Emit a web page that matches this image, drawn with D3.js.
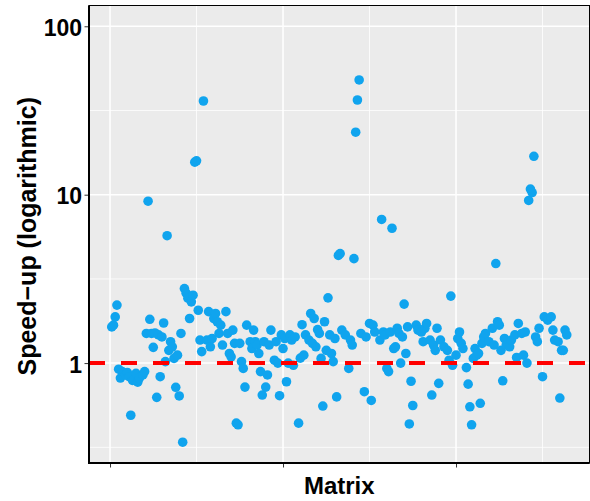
<!DOCTYPE html>
<html>
<head>
<meta charset="utf-8">
<script src="https://cdn.jsdelivr.net/npm/d3@7.9.0/dist/d3.min.js"></script>
<style>
  body { margin: 0; background: #fff; }
  text { font-family: "Liberation Sans", Arial, sans-serif; font-weight: bold; }
</style>
</head>
<body>
<svg id="chart" width="590" height="501"></svg>
<script>
// speed-up per matrix, [matrix index, speed-up]
const speedups = [
  [1,1.64],[2,1.68],[3,1.88],[4,2.21],[5,0.92],[6,0.815],[7,0.89],[9,0.85],[10,0.88],[11,0.83],
  [12,0.49],[13,0.79],[15,0.87],[16,0.77],[17,0.815],[19,0.85],[20,0.89],[21,1.5],[22,9.15],[23,1.82],
  [24,1.5],[25,1.24],[26,1.51],[27,0.626],[28,1.47],[29,0.83],[30,1.43],[31,1.73],[32,1.02],[33,5.71],
  [34,1.19],[35,1.34],[36,1.25],[37,1.066],[38,0.718],[39,1.115],[40,0.638],[41,1.5],[42,0.339],[43,2.77],
  [44,2.6],[45,2.43],[46,1.84],[47,2.31],[48,2.53],[49,15.6],[50,15.9],[51,2.06],[52,1.37],[53,1.17],
  [54,36],[56,1.37],[57,2.02],[58,1.25],[59,1.4],[60,1.84],[61,1.97],[62,1.76],[63,1.5],[64,1.68],
  [65,1.28],[67,2.02],[68,1.5],[69,1.14],[70,1.09],[71,1.57],[72,1.31],[73,0.44],[74,0.43],[75,1.31],
  [76,1.02],[77,0.93],[78,0.72],[79,1.68],[81,1.34],[82,1.22],[83,1.57],[84,1.34],[85,1.28],[86,1.14],
  [87,0.89],[88,0.646],[89,1.34],[90,0.72],[91,0.85],[92,1.28],[93,1.57],[95,1.04],[96,1.34],[97,1.0],
  [98,0.64],[99,1.47],[100,1.22],[101,1.4],[102,0.775],[103,1.0],[104,1.47],[105,1.37],[106,0.97],[107,1.43],
  [109,0.44],[110,1.07],[111,1.69],[112,1.115],[113,1.47],[115,1.37],[116,1.97],[117,1.31],[118,1.84],[119,1.25],
  [120,1.58],[121,1.5],[122,1.066],[123,0.556],[124,1.76],[125,1.19],[126,2.44],[127,1.47],[128,1.14],[129,1.02],
  [130,1.4],[131,0.63],[132,4.36],[133,4.47],[134,1.57],[136,1.47],[138,0.93],[139,1.37],[140,1.28],[141,4.17],
  [142,23.5],[143,36.5],[144,48],[145,1.5],[147,0.676],[148,1.43],[150,1.72],[151,0.6],[152,1.68],[153,1.53],
  [156,1.37],[157,7.13],[158,1.53],[159,1.47],[160,0.93],[161,0.89],[162,1.53],[163,6.32],[164,1.22],[165,1.25],
  [166,1.61],[167,1.5],[168,1.0],[169,1.43],[170,2.24],[171,1.14],[172,1.64],[173,0.435],[174,0.78],[175,0.56],
  [177,1.68],[178,1.57],[180,1.53],[181,1.34],[182,1.61],[183,1.72],[185,1.37],[186,0.646],[187,1.28],[188,1.19],
  [189,1.61],[190,0.758],[191,1.37],[193,1.25],[195,1.19],[196,1.04],[197,2.5],[198,0.97],[200,1.115],[201,1.4],
  [202,1.53],[203,1.31],[204,1.22],[206,0.94],[207,0.75],[208,0.55],[209,0.43],[210,1.066],[211,1.22],[212,1.115],
  [213,1.14],[214,0.577],[215,1.31],[216,1.43],[217,1.5],[219,1.34],[221,1.61],[222,1.28],[223,3.9],[224,1.76],
  [225,1.68],[226,1.19],[227,0.785],[228,1.4],[229,1.28],[231,1.25],[232,1.37],[234,1.47],[235,1.08],[236,1.72],
  [238,1.5],[239,1.115],[240,1.53],[241,1.0],[242,9.24],[243,10.8],[244,10.3],[245,16.9],[246,1.43],[247,1.34],
  [248,1.61],[250,0.83],[251,1.88],[253,1.8],[255,1.88],[256,1.57],[257,1.37],[259,1.34],[260,0.62],[261,1.19],
  [262,1.19],[263,1.57],[264,1.47]
];

const yMax = 100;          // upper y limit
const baseline = 1;        // no speed-up
const yTicks = [1, 10, 100];
const yMinor = [0.316, 3.16, 31.6];
const xTicks = [0, 100, 200];
const xMinor = [50, 150, 250];

const svg = d3.select('#chart');
const pLeft = 89, pRight = 589.5, pTop = 5.5, pBottom = 463;

// ggplot-like 5% expansion
const xExt = d3.extent(speedups, (d) => d[0]);
const xPad = (xExt[1] - xExt[0]) * 0.05;
const x = d3.scaleLinear().domain([xExt[0] - xPad, xExt[1] + xPad]).range([pLeft, pRight]);

const lo = Math.log10(d3.min(speedups, (d) => d[1]));
const hi = Math.log10(yMax);
const yPad = (hi - lo) * 0.05;
const y = d3.scaleLog().domain([10 ** (lo - yPad), 10 ** (hi + yPad)]).range([pBottom, pTop]);

svg.append('rect')
  .attr('x', pLeft).attr('y', pTop)
  .attr('width', pRight - pLeft).attr('height', pBottom - pTop)
  .attr('fill', '#ebebeb');

const grid = svg.append('g').attr('stroke', '#fff');
grid.selectAll('.ymin').data(yMinor).join('line')
  .attr('x1', pLeft).attr('x2', pRight)
  .attr('y1', (d) => y(d)).attr('y2', (d) => y(d))
  .attr('stroke-width', 0.8);
grid.selectAll('.xmin').data(xMinor).join('line')
  .attr('y1', pTop).attr('y2', pBottom)
  .attr('x1', (d) => x(d)).attr('x2', (d) => x(d))
  .attr('stroke-width', 0.8);
grid.selectAll('.ymaj').data(yTicks).join('line')
  .attr('x1', pLeft).attr('x2', pRight)
  .attr('y1', (d) => y(d)).attr('y2', (d) => y(d))
  .attr('stroke-width', 1.5);
grid.selectAll('.xmaj').data(xTicks).join('line')
  .attr('y1', pTop).attr('y2', pBottom)
  .attr('x1', (d) => x(d)).attr('x2', (d) => x(d))
  .attr('stroke-width', 1.5);

svg.append('g')
  .selectAll('circle')
  .data(speedups)
  .join('circle')
  .attr('cx', (d) => x(d[0]))
  .attr('cy', (d) => y(d[1]))
  .attr('r', 4.8)
  .attr('fill', '#10a4ee');

svg.append('line')
  .attr('x1', pLeft).attr('x2', pRight)
  .attr('y1', y(baseline)).attr('y2', y(baseline))
  .attr('stroke', '#ff0000')
  .attr('stroke-width', 4)
  .attr('stroke-dasharray', '16,16');

// panel border
svg.append('rect')
  .attr('x', pLeft).attr('y', pTop)
  .attr('width', pRight - pLeft).attr('height', pBottom - pTop)
  .attr('fill', 'none').attr('stroke', '#000').attr('stroke-width', 1);

// axes: ticks from d3, labels drawn as plain text
const yAxis = svg.append('g')
  .attr('transform', `translate(${pLeft - 1},0)`)
  .call(d3.axisLeft(y).tickValues(yTicks).tickFormat('').tickSize(3.5));
yAxis.select('.domain').remove();
yAxis.selectAll('.tick line').attr('stroke', '#333');

svg.append('g')
  .selectAll('text')
  .data(yTicks)
  .join('text')
  .attr('x', 82)
  .attr('y', (d) => y(d) + 9.5)
  .attr('text-anchor', 'end')
  .attr('fill', '#000')
  .style('font-size', '23px')
  .text((d) => String(d));

const xAxis = svg.append('g')
  .attr('transform', `translate(0,${pBottom + 1})`)
  .call(d3.axisBottom(x).tickValues(xTicks).tickFormat('').tickSize(3.5));
xAxis.select('.domain').remove();
xAxis.selectAll('.tick line').attr('stroke', '#333');

svg.append('line')
  .attr('x1', pLeft).attr('x2', pLeft)
  .attr('y1', pTop).attr('y2', pBottom + 1)
  .attr('stroke', '#000').attr('stroke-width', 2);
svg.append('line')
  .attr('x1', pLeft - 1).attr('x2', pRight)
  .attr('y1', pBottom).attr('y2', pBottom)
  .attr('stroke', '#000').attr('stroke-width', 2);

svg.append('text')
  .attr('x', (pLeft + pRight) / 2)
  .attr('y', 494)
  .attr('text-anchor', 'middle')
  .style('font-size', '24px')
  .text('Matrix');

svg.append('text')
  .attr('transform', `translate(36,${(pTop + pBottom) / 2 + 2}) rotate(-90)`)
  .attr('text-anchor', 'middle')
  .style('font-size', '25px')
  .text('Speed\u2212up (logarithmic)');
</script>
</body>
</html>
